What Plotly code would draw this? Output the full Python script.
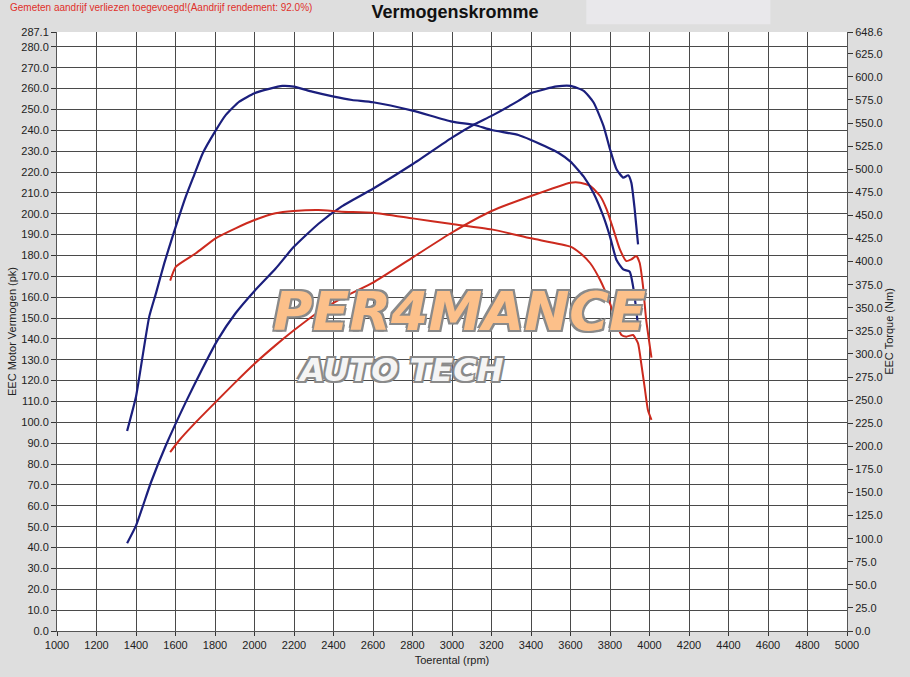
import plotly.graph_objects as go

# toerental (rpm) en gemeten waarden
blauw_pk_rpm = [1355, 1400, 1476, 1551, 1652, 1736, 1812, 1904, 2000, 2106, 2198, 2324, 2442,
                2600, 2800, 3000, 3114, 3200, 3336, 3400, 3531, 3600, 3667, 3717, 3767, 3800,
                3833, 3867, 3892, 3908, 3925, 3942]
blauw_pk = [42.1, 50.5, 71.3, 88.9, 109.7, 125.7, 139.3, 152.3, 163.0, 173.6, 184.0, 195.2, 203.5,
            212.0, 223.7, 236.5, 242.9, 246.9, 254.1, 257.8, 261.0, 261.3, 258.9, 253.3, 242.1, 230.9,
            221.3, 217.3, 218.4, 214.9, 202.1, 185.3]

blauw_nm_rpm = [1355, 1400, 1417, 1467, 1501, 1543, 1585, 1652, 1695, 1738, 1800, 1855, 1923, 2000,
                2074, 2141, 2200, 2292, 2402, 2494, 2600, 2800, 3000, 3114, 3200, 3336, 3400, 3538,
                3600, 3667, 3717, 3767, 3800, 3833, 3867, 3900, 3917, 3933, 3942]
blauw_nm = [216.6, 253.7, 275.4, 340.4, 365.6, 398.1, 427.0, 470.3, 494.0, 517.3, 540.7, 558.8, 573.2,
            582.3, 587.0, 590.2, 589.4, 584.0, 578.6, 575.0, 572.5, 563.4, 551.5, 547.9, 542.5, 537.1,
            531.7, 517.9, 508.2, 491.9, 474.0, 448.6, 427.0, 401.7, 391.6, 389.1, 372.9, 347.6, 329.5]

rood_pk_rpm = [1573, 1618, 1702, 1803, 1904, 2000, 2106, 2198, 2324, 2462, 2600, 2800, 3000, 3200,
               3400, 3600, 3650, 3700, 3750, 3783, 3817, 3850, 3883, 3908, 3933, 3950, 3967, 3983, 4010]
rood_pk = [85.7, 91.3, 100.0, 109.7, 119.3, 128.1, 136.9, 144.0, 152.9, 160.5, 167.0, 179.0, 191.0,
           201.3, 208.5, 214.9, 214.9, 213.3, 208.5, 202.1, 192.5, 182.9, 177.3, 178.1, 179.7, 176.5,
           165.4, 149.4, 131.0]

rood_nm_rpm = [1573, 1602, 1703, 1803, 1904, 2000, 2106, 2198, 2324, 2442, 2600, 2800, 3000, 3200,
               3400, 3600, 3650, 3700, 3750, 3800, 3833, 3858, 3883, 3917, 3942, 3958, 3975, 3992, 4010]
rood_nm = [379.4, 394.5, 409.0, 425.2, 436.0, 445.0, 452.3, 454.8, 455.9, 454.1, 453.0, 446.8, 440.7,
           434.9, 425.2, 416.2, 409.0, 398.2, 380.0, 354.8, 333.2, 320.5, 318.7, 320.5, 311.5, 289.9,
           264.6, 239.3, 228.5]

# assen
x_ticks = list(range(1000, 5001, 200))
pk_max = 287.1
nm_max = 648.6
pk_ticks = [i * 10 for i in range(29)] + [pk_max]
nm_ticks = [i * 25 for i in range(26)] + [nm_max]

BLAUW = "#1b1f7d"
ROOD = "#cc2a1e"
tekst = dict(family="Liberation Sans, Arial", size=11, color="#222222")

fig = go.Figure()

fig.add_trace(go.Scatter(x=blauw_pk_rpm, y=blauw_pk, mode="lines", name="Vermogen 1",
                         line=dict(color=BLAUW, width=2.2, shape="spline", smoothing=0.5)))
fig.add_trace(go.Scatter(x=blauw_nm_rpm, y=blauw_nm, mode="lines", name="Koppel 1", yaxis="y2",
                         line=dict(color=BLAUW, width=2.2, shape="spline", smoothing=0.5)))
fig.add_trace(go.Scatter(x=rood_pk_rpm, y=rood_pk, mode="lines", name="Vermogen 2",
                         line=dict(color=ROOD, width=2, shape="spline", smoothing=0.5)))
fig.add_trace(go.Scatter(x=rood_nm_rpm, y=rood_nm, mode="lines", name="Koppel 2", yaxis="y2",
                         line=dict(color=ROOD, width=2, shape="spline", smoothing=0.5)))

# lichter vlak rechtsboven
fig.add_shape(type="rect", xref="paper", yref="paper", x0=0.67, x1=0.903, y0=1.013, y1=1.06,
              fillcolor="#e9e8eb", line=dict(width=0), layer="below")

# watermerk logo
outline = "-2px -2px 0 #8a8a8a, 2px -2px 0 #8a8a8a, -2px 2px 0 #8a8a8a, 2px 2px 0 #8a8a8a"
fig.add_annotation(x=3040, y=153, xref="x", yref="y", text="PER4MANCE", showarrow=False,
                   font=dict(family="DejaVu Sans", size=54, color="#fcc08a", weight="bold",
                             style="italic", shadow=outline))
fig.add_annotation(x=2740, y=125, xref="x", yref="y", text="AUTO TECH", showarrow=False,
                   font=dict(family="DejaVu Sans", size=32, color="#f4f4f4", weight="bold",
                             style="italic", shadow=outline))

fig.add_annotation(x=-0.062, y=1.041, xref="paper", yref="paper", xanchor="left", yanchor="middle",
                   text="Gemeten aandrijf verliezen toegevoegd!(Aandrijf rendement: 92.0%)",
                   showarrow=False, font=dict(family="Liberation Sans, Arial", size=10, color="#e0302a"))

fig.update_layout(
    width=910,
    height=677,
    margin=dict(l=54, r=63, t=32, b=46),
    paper_bgcolor="#dedede",
    plot_bgcolor="#ffffff",
    showlegend=False,
    title=dict(text="<b>Vermogenskromme</b>", x=0.5, xanchor="center", y=0.982, yanchor="middle",
               font=dict(family="Liberation Sans, Arial", size=18, color="#111111")),
    xaxis=dict(
        range=[1000, 5000], tickvals=x_ticks, ticktext=[str(v) for v in x_ticks],
        showgrid=True, gridcolor="#4a4a4a", gridwidth=1,
        ticks="outside", ticklen=4, tickcolor="#333333",
        showline=True, linecolor="#555555", mirror=False,
        tickfont=tekst, zeroline=False,
        title=dict(text="Toerental (rpm)", font=tekst, standoff=6),
    ),
    yaxis=dict(
        range=[0, pk_max], tickvals=pk_ticks, ticktext=[f"{v:.1f}" for v in pk_ticks],
        showgrid=True, gridcolor="#4a4a4a", gridwidth=1,
        ticks="outside", ticklen=5, tickcolor="#333333",
        showline=True, linecolor="#555555", zeroline=False,
        tickfont=tekst,
        title=dict(text="EEC Motor Vermogen (pk)", font=tekst, standoff=2),
    ),
    yaxis2=dict(
        range=[0, nm_max], tickvals=nm_ticks, ticktext=[f"{v:.1f}" for v in nm_ticks],
        overlaying="y", side="right", showgrid=False,
        ticks="outside", ticklen=5, tickcolor="#333333",
        showline=True, linecolor="#555555", zeroline=False,
        tickfont=tekst,
        title=dict(text="EEC Torque (Nm)", font=tekst, standoff=2),
    ),
)

fig.write_html("out.html", config={"displayModeBar": False},
               post_script="document.body.style.margin = '0';")
